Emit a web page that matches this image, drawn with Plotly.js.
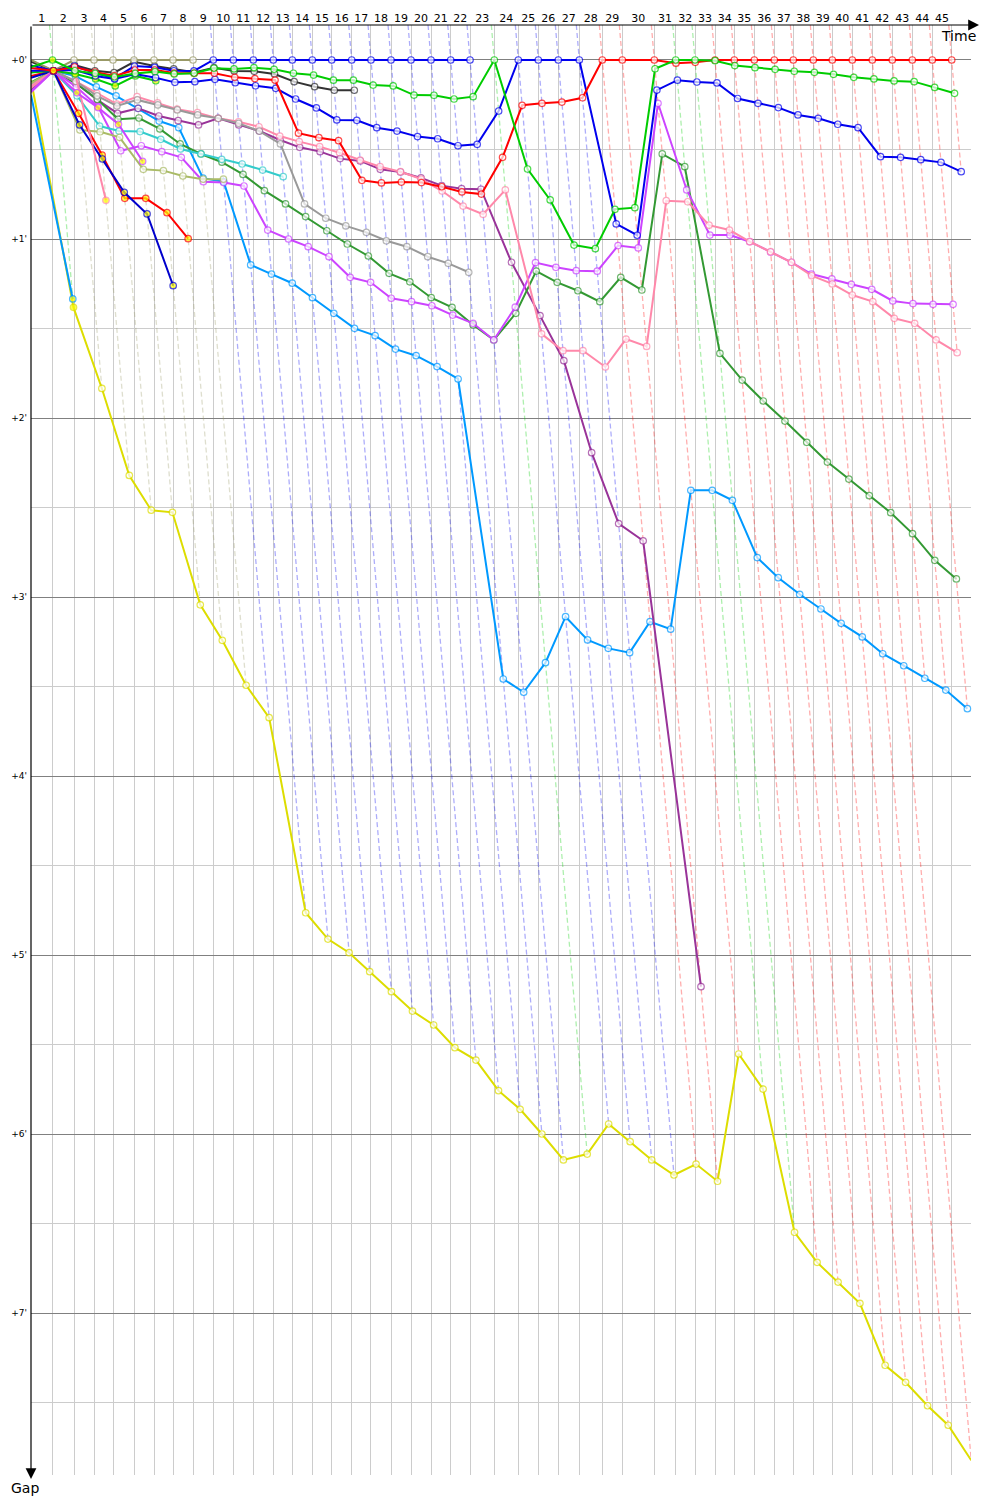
<!DOCTYPE html>
<html>
<head>
<meta charset="utf-8">
<script src="https://cdn.plot.ly/plotly-3.0.1.min.js"></script>
<style>
html,body{margin:0;padding:0;background:#ffffff;}
#chart{width:1000px;height:1500px;}
</style>
</head>
<body>
<div id="chart"></div>
<script>
// ---------- DATA ----------
// lap labels on the time axis
const lapLabels = ['1','2','3','4','5','6','7','8','9','10','11','12','13','14','15','16','17','18','19','20',
  '21','22','23','24','25','26','27','28','29','30','31','32','33','34','35','36','37','38','39','40',
  '41','42','43','44','45'];
// race time (minutes) at which the leader completed lap 0..45
const leaderLapTimes = [0, 1.414, 2.829, 4.145, 5.395, 6.776, 8.092, 9.342, 10.658, 11.993, 13.309,
  14.625, 15.941, 17.191, 18.507, 19.783, 21.099, 22.368, 23.684, 25.0, 26.316,
  27.612, 28.882, 30.480, 32.059, 33.375, 34.691, 36.072, 37.586, 38.901, 41.007,
  42.414, 43.684, 45.0, 46.270, 47.586, 48.901, 50.151, 51.467, 52.717, 54.033,
  55.349, 56.664, 57.980, 59.296, 60.572];
const gapTickValues = [0, 1, 2, 3, 4, 5, 6, 7];
const gapTickLabels = ["+0'", "+1'", "+2'", "+3'", "+4'", "+5'", "+6'", "+7'"];
const gapHalfValues = [0.5, 1.5, 2.5, 3.5, 4.5, 5.5, 6.5, 7.5];

// gap to the leader (minutes) of each car, per completed lap (index = own lap, 0 = start)
const gapYellow = [0.11, 1.382, 1.835, 2.321, 2.515, 2.527, 3.044, 3.242, 3.493, 3.674, 4.764, 4.911, 4.987,
  5.093, 5.205, 5.313, 5.391, 5.518, 5.587, 5.758, 5.862, 6.0, 6.145, 6.112, 5.944, 6.043, 6.145, 6.229,
  6.168, 6.264, 5.553, 5.749, 6.549, 6.717, 6.827, 6.946, 7.292, 7.387, 7.518, 7.627, 7.823];
const gapSkyShort = [0.195, 1.335];
const gapSky = [0.15, 0.06, 0.09, 0.15, 0.2, 0.27, 0.341, 0.378, 0.66, 0.68, 1.145, 1.196, 1.247, 1.328,
  1.415, 1.499, 1.54, 1.615, 1.652, 1.713, 1.782, 3.458, 3.532, 3.367, 3.11, 3.24, 3.287, 3.311, 3.138,
  3.18, 2.404, 2.404, 2.46, 2.78, 2.892, 2.985, 3.067, 3.147, 3.223, 3.317, 3.384, 3.454, 3.52, 3.624];
const gapPurple = [0.17, 0.06, 0.13, 0.223, 0.298, 0.27, 0.313, 0.339, 0.363, 0.326, 0.363, 0.397, 0.447,
  0.488, 0.512, 0.551, 0.564, 0.611, 0.626, 0.659, 0.702, 0.719, 0.722, 1.13, 1.428, 1.68, 2.194, 2.59,
  2.686, 5.177];
const gapDarkGreen = [0.125, 0.06, 0.13, 0.22, 0.331, 0.324, 0.385, 0.469, 0.525, 0.571, 0.639, 0.73, 0.804,
  0.875, 0.954, 1.028, 1.095, 1.192, 1.239, 1.328, 1.382, 1.48, 1.564, 1.415, 1.179, 1.242, 1.289, 1.35,
  1.214, 1.285, 0.525, 0.596, 1.639, 1.788, 1.905, 2.017, 2.136, 2.246, 2.341, 2.434, 2.529, 2.646, 2.795, 2.899];
const gapMagenta = [0.18, 0.06, 0.15, 0.26, 0.507, 0.479, 0.512, 0.544, 0.68, 0.685, 0.704, 0.95, 1.0, 1.043,
  1.099, 1.214, 1.242, 1.331, 1.35, 1.373, 1.425, 1.471, 1.564, 1.381, 1.132, 1.158, 1.177, 1.18, 1.037,
  1.05, 0.242, 0.726, 0.978, 0.978, 1.015, 1.074, 1.13, 1.196, 1.223, 1.253, 1.281, 1.346, 1.361, 1.365, 1.365];
const gapPink = [0.155, 0.06, 0.12, 0.186, 0.246, 0.205, 0.239, 0.275, 0.294, 0.326, 0.345, 0.373, 0.425,
  0.456, 0.484, 0.518, 0.559, 0.596, 0.624, 0.665, 0.732, 0.816, 0.862, 0.726, 1.53, 1.624, 1.624, 1.715,
  1.559, 1.6, 0.786, 0.792, 0.923, 0.95, 1.015, 1.071, 1.13, 1.205, 1.251, 1.313, 1.35, 1.443, 1.471, 1.564, 1.635];
const gapGray = [0.135, 0.06, 0.12, 0.201, 0.257, 0.223, 0.251, 0.279, 0.307, 0.326, 0.354, 0.397, 0.469,
  0.804, 0.884, 0.927, 0.963, 1.01, 1.043, 1.099, 1.136, 1.186];
const gapCyan = [0.14, 0.06, 0.2, 0.369, 0.397, 0.4, 0.443, 0.497, 0.525, 0.555, 0.581, 0.615, 0.652];
const gapPaleOlive = [0.13, 0.06, 0.391, 0.401, 0.432, 0.611, 0.618, 0.648, 0.666, 0.666];
const gapRedShort = [0.09, 0.06, 0.298, 0.531, 0.773, 0.773, 0.853, 0.998];
const gapNavyShort = [0.1, 0.06, 0.363, 0.553, 0.739, 0.86, 1.261];
const gapPinkShort = [0.145, 0.06, 0.078, 0.784];
const gapMagentaShort = [0.175, 0.06, 0.183, 0.266, 0.359, 0.566];
const gapLimeShort = [0.07, 0.06, 0.078, 0.106, 0.145, 0.089, 0.116];
const gapBlack = [0.01, 0.06, 0.028, 0.06, 0.071, 0.01, 0.034, 0.05, 0.069, 0.043, 0.061, 0.063, 0.078,
  0.121, 0.149, 0.169, 0.169];
const gapOlive = [0, 0.06, 0, 0, 0, 0, 0, 0, 0];
const gapBlueA = [0.03, 0.06, 0.034, 0.073, 0.102, 0.034, 0.041, 0.06, 0.061, 0, 0, 0, 0, 0, 0, 0, 0, 0,
  0, 0, 0, 0, 0];
const gapBlueB = [0.06, 0.06, 0.056, 0.089, 0.106, 0.078, 0.099, 0.125, 0.121, 0.108, 0.127, 0.144, 0.158,
  0.218, 0.268, 0.335, 0.337, 0.378, 0.397, 0.428, 0.44, 0.479, 0.471, 0.285, 0, 0, 0, 0, 0.916, 0.979,
  0.168, 0.113, 0.123, 0.128, 0.215, 0.242, 0.266, 0.307, 0.326, 0.359, 0.378, 0.54, 0.544, 0.557, 0.572, 0.624];
const gapRed = [0.045, 0.06, 0.039, 0.067, 0.089, 0.056, 0.056, 0.073, 0.074, 0.074, 0.097, 0.104, 0.112,
  0.409, 0.434, 0.451, 0.672, 0.687, 0.682, 0.685, 0.708, 0.737, 0.749, 0.544, 0.253, 0.242, 0.235, 0.211,
  0, 0, 0, 0.018, 0.013, 0, 0, 0, 0, 0, 0, 0, 0, 0, 0, 0, 0, 0];
const gapLime = [0.04, 0, 0.06, 0.075, 0.095, 0.075, 0.065, 0.078, 0.074, 0.046, 0.05, 0.043, 0.052, 0.074,
  0.084, 0.113, 0.113, 0.14, 0.145, 0.196, 0.197, 0.218, 0.205, 0, 0.609, 0.782, 1.034, 1.054, 0.834,
  0.825, 0.049, 0, 0, 0.004, 0.031, 0.043, 0.052, 0.063, 0.069, 0.08, 0.097, 0.106, 0.117, 0.121, 0.153, 0.186];

// ---------- STYLES ----------
const WHITE = '#ffffff', YEL = '#ffff00';
const cars = [
  {gaps: gapYellow, color: '#dddd00', fill: WHITE},
  {gaps: gapSkyShort, color: '#0099ff', fill: YEL},
  {gaps: gapSky, color: '#0099ff', fill: WHITE},
  {gaps: gapPurple, color: '#993399', fill: WHITE},
  {gaps: gapDarkGreen, color: '#339933', fill: WHITE},
  {gaps: gapMagenta, color: '#cc44ff', fill: WHITE},
  {gaps: gapPink, color: '#ff88aa', fill: WHITE},
  {gaps: gapGray, color: '#999999', fill: WHITE},
  {gaps: gapCyan, color: '#33cccc', fill: WHITE},
  {gaps: gapPaleOlive, color: '#aabb66', fill: WHITE},
  {gaps: gapRedShort, color: '#ff0000', fill: YEL},
  {gaps: gapNavyShort, color: '#0000cc', fill: YEL},
  {gaps: gapPinkShort, color: '#ff88aa', fill: YEL},
  {gaps: gapMagentaShort, color: '#cc44ff', fill: YEL},
  {gaps: gapLimeShort, color: '#00cc00', fill: YEL},
  {gaps: gapBlack, color: '#333333', fill: WHITE},
  {gaps: gapOlive, color: '#999966', fill: WHITE},
  {gaps: gapBlueA, color: '#0000ee', fill: WHITE},
  {gaps: gapBlueB, color: '#0000ee', fill: WHITE},
  {gaps: gapRed, color: '#ff0000', fill: WHITE},
  {gaps: gapLime, color: '#00cc00', fill: WHITE}
];

function rgba(hex, a) {
  const n = parseInt(hex.slice(1), 16);
  return 'rgba(' + ((n >> 16) & 255) + ',' + ((n >> 8) & 255) + ',' + (n & 255) + ',' + a + ')';
}

const GAP_TOP = -0.1955, GAP_BOTTOM = 7.905;
const TIME_MAX = 61.842;
const traces = [];

// lap lines (dashed): every car crossing lap k lies on time = T_k + gap
for (let k = 1; k < leaderLapTimes.length; k++) {
  let gmax = -Infinity, gmin = Infinity, leader = null;
  cars.forEach(c => {
    if (c.gaps.length > k) {
      const g = c.gaps[k];
      if (g > gmax) gmax = g;
      if (g < gmin) { gmin = g; leader = c; }
    }
  });
  traces.push({
    type: 'scatter', mode: 'lines', hoverinfo: 'skip',
    x: [leaderLapTimes[k] + GAP_TOP, leaderLapTimes[k] + gmax],
    y: [GAP_TOP, gmax],
    line: {color: rgba(leader.color, 0.32), width: 1.3, dash: '5px,3px'}
  });
}

// car traces
cars.forEach(c => {
  const x = c.gaps.map((g, i) => i === 0 ? leaderLapTimes[0] : leaderLapTimes[i] + g);
  const sizes = c.gaps.map((g, i) => i === 0 ? 0 : 6.5);
  const fills = c.gaps.map((g, i) => i === 1 ? YEL : c.fill);
  traces.push({
    type: 'scatter', mode: 'lines+markers', hoverinfo: 'skip', cliponaxis: false,
    x: x, y: c.gaps,
    line: {color: c.color, width: 2},
    marker: {symbol: 'circle', size: sizes, color: fills, line: {color: c.color, width: 1.2}}
  });
});

// lap label axis carrier
const lapMids = lapLabels.map((l, i) => (leaderLapTimes[i] + leaderLapTimes[i + 1]) / 2);
traces.push({type: 'scatter', mode: 'markers', x: [lapMids[0]], y: [GAP_BOTTOM + 5], xaxis: 'x2', yaxis: 'y',
  marker: {size: 1, color: 'rgba(0,0,0,0)'}, hoverinfo: 'skip'});

const plotL = 31, plotR = 971, plotT = 25, plotB = 1475;
const pw = plotR - plotL, ph = plotB - plotT;

const layout = {
  width: 1000, height: 1500,
  margin: {l: plotL, r: 1000 - plotR, t: plotT, b: 1500 - plotB, pad: 0},
  paper_bgcolor: '#ffffff', plot_bgcolor: '#ffffff',
  showlegend: false,
  font: {family: 'DejaVu Sans, Verdana, sans-serif', color: '#000000'},
  xaxis: {
    range: [0, TIME_MAX], autorange: false, fixedrange: true,
    tickmode: 'array', tickvals: leaderLapTimes.slice(1), showticklabels: false, ticks: '',
    showgrid: true, gridcolor: '#cccccc', gridwidth: 1, zeroline: false, showline: false
  },
  xaxis2: {
    overlaying: 'x', side: 'top', anchor: 'y',
    range: [0, TIME_MAX], autorange: false, fixedrange: true,
    tickmode: 'array', tickvals: lapMids, ticktext: lapLabels, ticks: '',
    tickfont: {size: 11, color: '#000000'},
    showgrid: false, zeroline: false, showline: false
  },
  yaxis: {
    range: [GAP_BOTTOM, GAP_TOP], autorange: false, fixedrange: true,
    tickmode: 'array', tickvals: gapTickValues, ticktext: gapTickLabels, ticks: '',
    tickfont: {size: 9, color: '#000000'}, ticklabelstandoff: 3,
    showgrid: true, gridcolor: '#808080', gridwidth: 1, zeroline: false, showline: false,
    minor: {tickmode: 'array', tickvals: gapHalfValues, showgrid: true, gridcolor: '#cccccc', gridwidth: 1, ticks: ''}
  },
  annotations: [
    {xref: 'paper', yref: 'paper', x: (979 - plotL) / pw, y: 1, ax: -(979 - plotL), ay: 0,
     axref: 'pixel', ayref: 'pixel', text: '', showarrow: true, arrowhead: 2, arrowsize: 1.8,
     arrowwidth: 1.2, arrowcolor: '#000000'},
    {xref: 'paper', yref: 'paper', x: 0, y: (plotB - 1479) / ph, ax: 0, ay: -(1479 - plotT),
     axref: 'pixel', ayref: 'pixel', text: '', showarrow: true, arrowhead: 2, arrowsize: 1.8,
     arrowwidth: 1.2, arrowcolor: '#000000'},
    {xref: 'paper', yref: 'paper', x: (978 - plotL) / pw, y: 1, xanchor: 'right', yanchor: 'top',
     yshift: -1, text: 'Time', showarrow: false, font: {size: 14, color: '#000000'}},
    {xref: 'paper', yref: 'paper', x: (25 - plotL) / pw, y: (plotB - 1478) / ph, xanchor: 'center', yanchor: 'top',
     text: 'Gap', showarrow: false, font: {size: 14, color: '#000000'}}
  ]
};

Plotly.newPlot('chart', traces, layout, {staticPlot: true, displayModeBar: false});
</script>
</body>
</html>
